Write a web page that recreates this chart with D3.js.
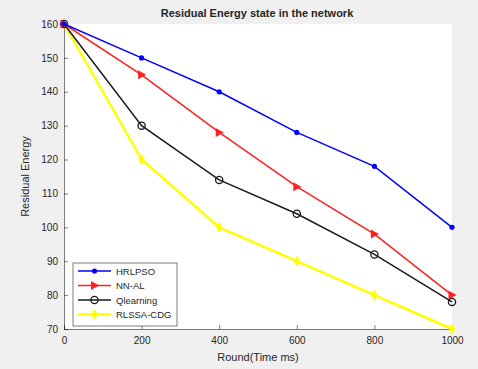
<!DOCTYPE html>
<html>
<head>
<meta charset="utf-8">
<script src="https://cdn.jsdelivr.net/npm/d3@7"></script>
<style>
  body { margin: 0; background: #f0f0f0; }
  svg { display: block; font-family: "Liberation Sans", Arial, sans-serif; }
</style>
</head>
<body>
<svg id="chart" width="478" height="369"></svg>
<script>
// rounds on the x axis
var rounds = [0, 200, 400, 600, 800, 1000];

// residual energy per method
var hrlpso    = [160, 150, 140, 128, 118, 100];
var nnal      = [160, 145, 128, 112, 98, 80];
var qlearning = [160, 130, 114, 104, 92, 78];
var rlssa     = [160, 120, 100, 90, 80, 70];

var seriesNames = ['HRLPSO', 'NN-AL', 'Qlearning', 'RLSSA-CDG'];
var xTicks = [0, 200, 400, 600, 800, 1000];
var yTicks = [70, 80, 90, 100, 110, 120, 130, 140, 150, 160];

var series = [
    { name: seriesNames[0], values: hrlpso,    color: '#0000ff', marker: 'dot',  width: 1.5 },
    { name: seriesNames[1], values: nnal,      color: '#ff2020', marker: 'tri',  width: 1.5 },
    { name: seriesNames[2], values: qlearning, color: '#1a1a1a', marker: 'ring', width: 1.5 },
    { name: seriesNames[3], values: rlssa,     color: '#ffff00', marker: 'star', width: 2.5 }
];

var svg = d3.select('#chart');
var m = { left: 64, right: 26, top: 24, bottom: 40 };
var W = 478, H = 369;

var x = d3.scaleLinear().domain([0, 1000]).range([m.left, W - m.right]);
var y = d3.scaleLinear().domain([70, 160]).range([H - m.bottom, m.top]);

// white plot area
svg.append('rect')
    .attr('x', m.left).attr('y', m.top)
    .attr('width', W - m.right - m.left).attr('height', H - m.bottom - m.top)
    .attr('fill', '#ffffff');

var xAxis = svg.append('g')
    .attr('transform', 'translate(0,' + (H - m.bottom) + ')')
    .call(d3.axisBottom(x).tickValues(xTicks).tickFormat(d3.format('d')).tickSize(-4).tickPadding(8));
var yAxis = svg.append('g')
    .attr('transform', 'translate(' + m.left + ',0)')
    .call(d3.axisLeft(y).tickValues(yTicks).tickFormat(d3.format('d')).tickSize(-4).tickPadding(6));

[xAxis, yAxis].forEach(function (g) {
    g.selectAll('path, line').attr('stroke', '#262626').attr('stroke-width', 0.6);
    g.selectAll('text').attr('fill', '#262626').style('font-size', '10px');
});

var line = d3.line()
    .x(function (d, i) { return x(rounds[i]); })
    .y(function (d) { return y(d); });

function drawMarker(g, type, color, cx, cy) {
    if (type === 'dot') {
        g.append('circle').attr('cx', cx).attr('cy', cy).attr('r', 2.6).attr('fill', color);
    } else if (type === 'tri') {
        g.append('path')
            .attr('d', 'M' + (cx + 4.5) + ',' + cy + 'L' + (cx - 3.5) + ',' + (cy - 4.5) + 'L' + (cx - 3.5) + ',' + (cy + 4.5) + 'Z')
            .attr('fill', color);
    } else if (type === 'ring') {
        g.append('circle').attr('cx', cx).attr('cy', cy).attr('r', 3.6)
            .attr('fill', 'none').attr('stroke', color).attr('stroke-width', 1.3);
    } else {
        g.append('path')
            .attr('d', d3.symbol().type(d3.symbolDiamond).size(36)())
            .attr('transform', 'translate(' + cx + ',' + cy + ')')
            .attr('fill', color);
    }
}

var plot = svg.append('g');
series.slice().reverse().forEach(function (s) {
    plot.append('path')
        .datum(s.values)
        .attr('d', line)
        .attr('fill', 'none')
        .attr('stroke', s.color)
        .attr('stroke-width', s.width);
    s.values.forEach(function (v, i) {
        drawMarker(plot, s.marker, s.color, x(rounds[i]), y(v));
    });
});

// title and axis labels
svg.append('text')
    .attr('x', 257).attr('y', 17)
    .attr('text-anchor', 'middle')
    .style('font-size', '11px').style('font-weight', 'bold')
    .attr('fill', '#262626')
    .text('Residual Energy state in the network');

svg.append('text')
    .attr('x', 258).attr('y', 361)
    .attr('text-anchor', 'middle')
    .style('font-size', '11px')
    .attr('fill', '#262626')
    .text('Round(Time ms)');

svg.append('text')
    .attr('transform', 'translate(29,' + ((m.top + H - m.bottom) / 2) + ') rotate(-90)')
    .attr('text-anchor', 'middle')
    .style('font-size', '11px')
    .attr('fill', '#262626')
    .text('Residual Energy');

// legend
var lg = svg.append('g').attr('transform', 'translate(73,263)');
lg.append('rect')
    .attr('width', 104).attr('height', 63)
    .attr('fill', '#ffffff').attr('stroke', '#262626').attr('stroke-width', 0.6);
series.forEach(function (s, i) {
    var ly = 8 + i * 14.5;
    lg.append('line')
        .attr('x1', 5).attr('x2', 38).attr('y1', ly).attr('y2', ly)
        .attr('stroke', s.color).attr('stroke-width', s.width);
    drawMarker(lg, s.marker, s.color, 21.5, ly);
    lg.append('text')
        .attr('x', 43).attr('y', ly + 3.5)
        .style('font-size', '9.5px')
        .attr('fill', '#262626')
        .text(s.name);
});
</script>
</body>
</html>
